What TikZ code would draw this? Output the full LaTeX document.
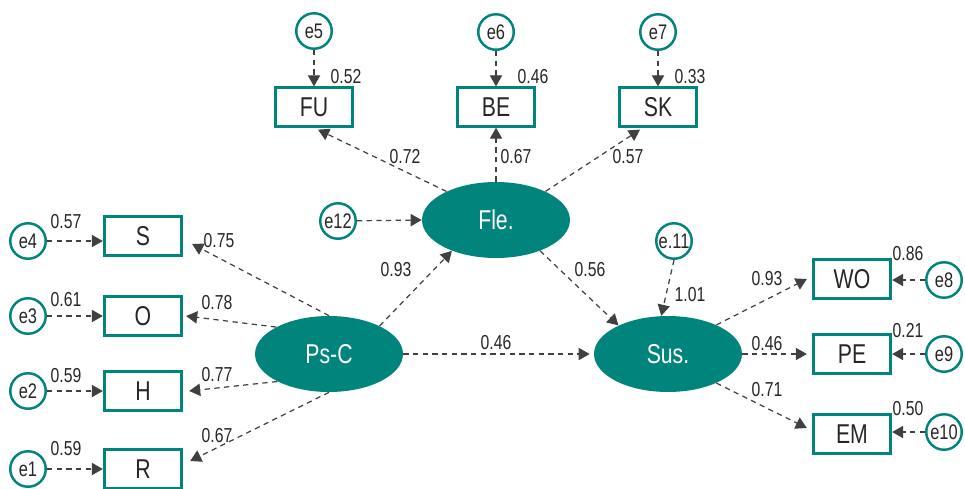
\documentclass[tikz,border=0pt]{standalone}
\usepackage{fontspec}
\setmainfont{Liberation Sans}[FakeStretch=0.78]
\usetikzlibrary{shapes.geometric,arrows.meta}
\definecolor{verdeazul}{RGB}{0,132,124}
\definecolor{gris}{RGB}{64,64,64}

\begin{document}
\begin{tikzpicture}[x=0.02cm,y=-0.02cm,
    caja/.style={draw=verdeazul, line width=1.6pt, minimum width=1.55cm, minimum height=0.77cm, inner sep=0pt, font=\fontsize{15.5}{18}\selectfont, text=black!85},
    latente/.style={ellipse, fill=verdeazul, text=white, minimum width=2.96cm, minimum height=1.52cm, inner sep=0pt, font=\fontsize{15.5}{18}\selectfont},
    error/.style={circle, draw=verdeazul, line width=1.4pt, minimum size=0.71cm, inner sep=0pt, font=\fontsize{12}{14}\selectfont, text=black!85},
    flecha/.style={-{Triangle[length=6.3pt,width=7pt]}, gris, dash pattern=on 3pt off 2.5pt, line width=0.7pt},
    coef/.style={font=\fontsize{11.5}{13}\selectfont, text=black!85, inner sep=0pt}]

    \useasboundingbox (0,0) rectangle (965,488);

    % variables latentes
    \node[latente] (fle) at (496,220) {Fle.};
    \node[latente] (psc) at (329,354) {Ps-C};
    \node[latente] (sus) at (668,354) {Sus.};

    % indicadores de Ps-C
    \node[caja] (s) at (143,236) {S};
    \node[caja] (o) at (143,316) {O};
    \node[caja] (h) at (143,391) {H};
    \node[caja] (r) at (143,469) {R};

    % indicadores de Fle.
    \node[caja] (fu) at (314,107) {FU};
    \node[caja] (be) at (496,107) {BE};
    \node[caja] (sk) at (658,107) {SK};

    % indicadores de Sus.
    \node[caja] (wo) at (852,279) {WO};
    \node[caja] (pe) at (852,354) {PE};
    \node[caja] (em) at (852,434) {EM};

    % errores
    \node[error] (e1) at (28,469) {e1};
    \node[error] (e2) at (28,391) {e2};
    \node[error] (e3) at (28,316) {e3};
    \node[error] (e4) at (28,241) {e4};
    \node[error] (e5) at (314,31) {e5};
    \node[error] (e6) at (496,32) {e6};
    \node[error] (e7) at (658,32) {e7};
    \node[error] (e8) at (944,280) {e8};
    \node[error] (e9) at (944,354) {e9};
    \node[error] (e10) at (944,432) {e10};
    \node[error] (e11) at (674,241) {e.11};
    \node[error] (e12) at (338,221) {e12};

    % errores -> indicadores
    \draw[flecha] (e4) -- (e4 -| s.west);
    \draw[flecha] (e3) -- (e3 -| o.west);
    \draw[flecha] (e2) -- (e2 -| h.west);
    \draw[flecha] (e1) -- (e1 -| r.west);
    \draw[flecha] (e5) -- (fu);
    \draw[flecha] (e6) -- (be);
    \draw[flecha] (e7) -- (sk);
    \draw[flecha] (e8) -- (e8 -| wo.east);
    \draw[flecha] (e9) -- (e9 -| pe.east);
    \draw[flecha] (e10) -- (e10 -| em.east);

    % perturbaciones
    \draw[flecha] (e12) -- (fle.west);
    \draw[flecha] (e11.south) -- (sus.100);

    % cargas de Ps-C
    \draw[flecha] (psc.north) -- ([shift={(9,8)}]s.east);
    \draw[flecha] (psc.153) -- ([xshift=0.06cm]o.east);
    \draw[flecha] (psc.208) -- ([xshift=0.12cm]h.east);
    \draw[flecha] (psc.south) -- ([shift={(7,-8)}]r.east);

    % cargas de Fle.
    \draw[flecha] (fle.150) -- ([shift={(4,2)}]fu.south);
    \draw[flecha] (fle.north) -- (be.south);
    \draw[flecha] (fle.30) -- ([shift={(-18,2)}]sk.south);

    % cargas de Sus.
    \draw[flecha] (sus.31) -- ([xshift=-0.1cm]wo.west);
    \draw[flecha] (sus.east) -- ([xshift=-0.1cm]pe.west);
    \draw[flecha] (sus.329) -- ([shift={(-5,-6)}]em.west);

    % relaciones estructurales
    \draw[flecha] (psc.29) -- (fle.215);
    \draw[flecha] (psc.east) -- ([xshift=-0.08cm]sus.west);
    \draw[flecha] (fle.325) -- (sus.150);

    % coeficientes
    \node[coef] (c1) at (66,222) {0.57};
    \node[coef] (c2) at (66,300) {0.61};
    \node[coef] (c3) at (66,376) {0.59};
    \node[coef] (c4) at (66,449) {0.59};
    \node[coef] (c5) at (219,241) {0.75};
    \node[coef] (c6) at (217,303) {0.78};
    \node[coef] (c7) at (217,375) {0.77};
    \node[coef] (c8) at (217,436) {0.67};
    \node[coef] (c9) at (396,270) {0.93};
    \node[coef] (c10) at (496,343) {0.46};
    \node[coef] (c11) at (405,157) {0.72};
    \node[coef] (c12) at (516,157) {0.67};
    \node[coef] (c13) at (628,157) {0.57};
    \node[coef] (c14) at (346,77) {0.52};
    \node[coef] (c15) at (533,77) {0.46};
    \node[coef] (c16) at (690,77) {0.33};
    \node[coef] (c17) at (590,270) {0.56};
    \node[coef] (c18) at (690,295) {1.01};
    \node[coef] (c19) at (767,279) {0.93};
    \node[coef] (c20) at (767,344) {0.46};
    \node[coef] (c21) at (767,390) {0.71};
    \node[coef] (c22) at (908,254) {0.86};
    \node[coef] (c23) at (908,331) {0.21};
    \node[coef] (c24) at (908,409) {0.50};

\end{tikzpicture}
\end{document}
